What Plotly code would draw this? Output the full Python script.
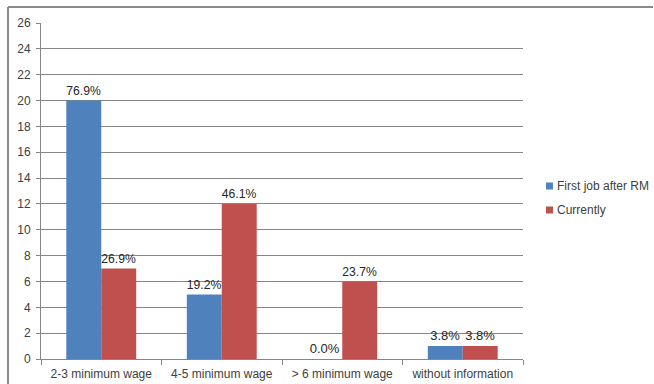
import plotly.graph_objects as go

categories = ["2-3 minimum wage", "4-5 minimum wage", "> 6 minimum wage", "without information"]
first_job = [20, 5, 0, 1]
currently = [7, 12, 6, 1]
first_job_labels = ["76.9%", "19.2%", "0.0%", "3.8%"]
currently_labels = ["26.9%", "46.1%", "23.7%", "3.8%"]
series_names = ["First job after RM", "Currently"]
y_ticks = list(range(0, 27, 2))

BLUE = "#4F81BD"
RED = "#C0504D"
GRID = "#868686"
TEXT = "#404040"
FONT = "Liberation Sans, Arial, sans-serif"

fig = go.Figure()
for name, vals, labels, color in [
    (series_names[0], first_job, first_job_labels, BLUE),
    (series_names[1], currently, currently_labels, RED),
]:
    fig.add_trace(go.Bar(
        x=categories, y=vals, name=name, marker_color=color, marker_line_width=0,
        text=labels, textposition="outside", cliponaxis=False,
        textfont=dict(family=FONT, size=13, color="#262626"),
        showlegend=False,
    ))

fig.update_layout(
    width=654, height=384,
    margin=dict(l=41, r=131, t=23, b=25, autoexpand=False),
    paper_bgcolor="white", plot_bgcolor="white",
    barmode="group", bargap=0.42, bargroupgap=0,
    font=dict(family=FONT, size=12, color=TEXT),
    uniformtext=dict(minsize=13),
)
fig.update_xaxes(
    automargin=False,
    showgrid=False, showline=True, linecolor=GRID, linewidth=1,
    ticks="outside", tickson="boundaries", ticklen=5, tickcolor=GRID,
    ticklabelstandoff=4,
    tickfont=dict(family=FONT, size=12, color=TEXT),
)
fig.update_yaxes(
    automargin=False,
    range=[0, 26], tickvals=y_ticks, showgrid=True, gridcolor=GRID, gridwidth=1,
    showline=True, linecolor=GRID, linewidth=1, zeroline=False,
    ticks="outside", ticklen=4, tickcolor=GRID,
    ticklabelstandoff=3,
    tickfont=dict(family=FONT, size=12, color=TEXT),
)

# chart frame: top and left edges
fig.add_shape(type="line", xref="paper", yref="paper", x0=-33 / 482, x1=612 / 482,
              y0=1 + 16 / 336, y1=1 + 16 / 336, line=dict(color="#8A8A8A", width=2))
fig.add_shape(type="line", xref="paper", yref="paper", x0=-33 / 482, x1=-33 / 482,
              y0=1 + 16 / 336, y1=-25 / 336 - 0.01, line=dict(color="#8A8A8A", width=2))

# legend
legend_rows = [(series_names[0], BLUE, 186), (series_names[1], RED, 210)]
for name, color, ypx in legend_rows:
    yc = (359 - ypx) / 336
    x0 = (546 - 41) / 482
    fig.add_shape(type="rect", xref="paper", yref="paper",
                  x0=x0, x1=x0 + 7 / 482, y0=yc - 3.5 / 336, y1=yc + 3.5 / 336,
                  fillcolor=color, line=dict(width=0))
    fig.add_annotation(text=name, xref="paper", yref="paper", x=(555 - 41) / 482, y=yc,
                       xanchor="left", yanchor="middle", showarrow=False,
                       font=dict(family=FONT, size=12, color=TEXT))

fig.write_html("out.html")
